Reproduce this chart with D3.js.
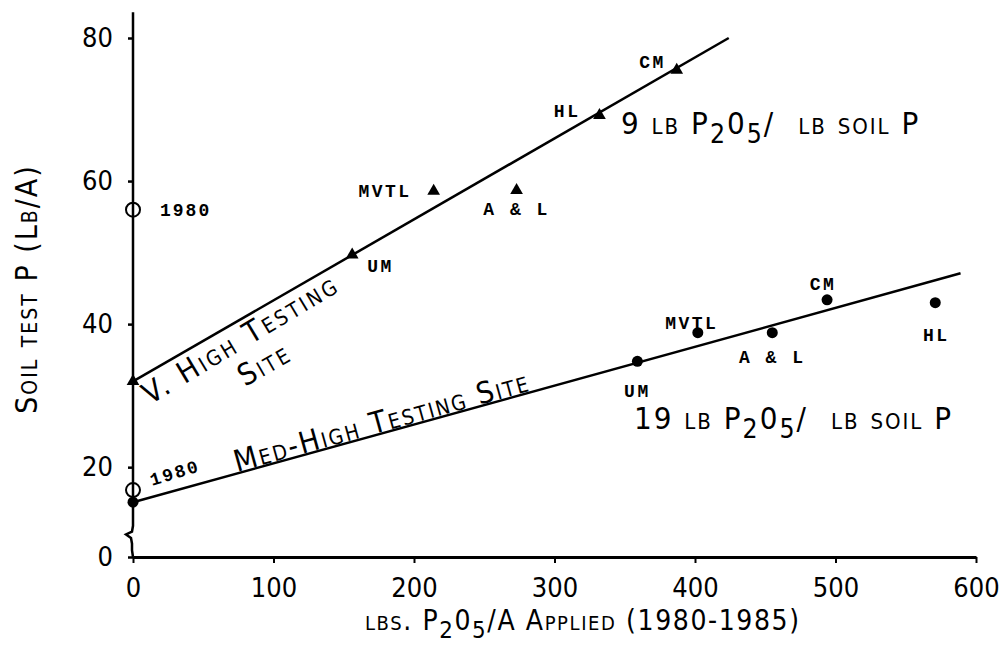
<!DOCTYPE html>
<html>
<head>
<meta charset="utf-8">
<script src="https://cdn.jsdelivr.net/npm/d3@7"></script>
<style>
  body { margin: 0; background: #fff; }
  .big { font-family: "Liberation Sans Narrow", "DejaVu Sans Condensed", sans-serif; font-stretch: condensed; font-variant: small-caps; fill: #000; }
  .tw { font-family: "Liberation Mono", "DejaVu Sans Mono", monospace; font-weight: bold; fill: #000; }
</style>
</head>
<body>
<svg id="chart" width="1006" height="647"></svg>
<script>
// axis ticks
const xTicks = [0, 100, 200, 300, 400, 500, 600];
const yTicks = [0, 20, 40, 60, 80];

// V. high testing site (triangles)
const vhSites = ["UM", "MVTL", "A & L", "HL", "CM"];
const vhApplied = [156, 214, 273, 332, 387];
const vhSoilP = [49.7, 58.6, 58.7, 69.2, 75.5];
const vhStart = 32;      // 0 lb applied
const vh1980 = 56;       // 1980 soil test
const vhFit = [[0, 32], [424, 80]];

// Med-high testing site (dots)
const mhSites = ["UM", "MVTL", "A & L", "CM", "HL"];
const mhApplied = [359, 402, 455, 494, 571];
const mhSoilP = [34.8, 38.8, 38.8, 43.4, 43.0];
const mhStart = 15.1;
const mh1980 = 16.8;
const mhFit = [[0, 15.1], [589, 47.1]];

const svg = d3.select("#chart");

const x = d3.scaleLinear().domain([0, 600]).range([133, 976]);
// y axis is broken between 0 and ~8
const y = d3.scaleLinear().domain([0, 8, 80]).range([557, 553, 38]);

// x axis
const xAxis = svg.append("g")
    .attr("transform", `translate(0,${y(0)})`)
    .call(d3.axisBottom(x).tickValues(xTicks).tickSize(6).tickSizeOuter(0).tickPadding(15));
xAxis.select(".domain").attr("stroke-width", 3);
xAxis.selectAll(".tick line").attr("stroke-width", 2);
xAxis.selectAll(".tick text").attr("class", "big").style("font-size", "27px");

// y axis (ticks only, line drawn by hand with the break)
const yAxis = svg.append("g")
    .attr("transform", `translate(${x(0)},0)`)
    .call(d3.axisLeft(y).tickValues(yTicks).tickSize(5).tickSizeOuter(0).tickPadding(15));
yAxis.select(".domain").remove();
yAxis.selectAll(".tick line").attr("stroke-width", 2.5);
yAxis.selectAll(".tick text").attr("class", "big").style("font-size", "27px");

const x0 = x(0);
svg.append("path")
    .attr("d", d3.line()([
      [x0, y(83.6)], [x0, y(11.8)], [x0 - 1, y(11)], [x0 - 7, y(10.6)],
      [x0 - 2, y(10.1)], [x0 - 1, y(9.3)], [x0 - 1, y(8.4)], [x0, y(0)]
    ]))
    .attr("fill", "none").attr("stroke", "#000").attr("stroke-width", 2.5);

// fitted lines
const line = d3.line().x(d => x(d[0])).y(d => y(d[1]));
[vhFit, mhFit].forEach(f => {
  svg.append("path").attr("d", line(f))
    .attr("fill", "none").attr("stroke", "#000").attr("stroke-width", 2.5);
});

// markers
const tri = d3.symbol().type(d3.symbolTriangle).size(70);
const vhPts = vhSites.map((s, i) => ({ site: s, ap: vhApplied[i], p: vhSoilP[i] }));
const mhPts = mhSites.map((s, i) => ({ site: s, ap: mhApplied[i], p: mhSoilP[i] }));

svg.selectAll(".tri")
  .data(vhPts.concat([{ site: "", ap: 0, p: vhStart }]))
  .enter().append("path")
    .attr("class", "tri")
    .attr("transform", d => `translate(${x(d.ap)},${y(d.p)})`)
    .attr("d", tri);

svg.selectAll(".dot")
  .data(mhPts.concat([{ site: "", ap: 0, p: mhStart }]))
  .enter().append("circle")
    .attr("class", "dot")
    .attr("cx", d => x(d.ap)).attr("cy", d => y(d.p))
    .attr("r", 5.5);

// 1980 open circles
[vh1980, mh1980].forEach(v => {
  svg.append("circle").attr("cx", x(0)).attr("cy", y(v)).attr("r", 7)
    .attr("fill", "none").attr("stroke", "#000").attr("stroke-width", 2);
});

// site labels: [dx, dy, anchor]
const vhLab = { "UM": [15, 17, "start"], "MVTL": [-22, 6, "end"], "A & L": [0, 25, "middle"], "HL": [-19, 2, "end"], "CM": [-11, -2, "end"] };
const mhLab = { "UM": [0, 36, "middle"], "MVTL": [-6, -4, "middle"], "A & L": [0, 30, "middle"], "CM": [-4, -10, "middle"], "HL": [1, 38, "middle"] };

function siteLabels(pts, lab) {
  svg.append("g").selectAll("text")
    .data(pts)
    .enter().append("text")
      .attr("class", "tw")
      .attr("x", d => x(d.ap) + lab[d.site][0])
      .attr("y", d => y(d.p) + lab[d.site][1])
      .attr("text-anchor", d => lab[d.site][2])
      .style("font-size", "18px")
      .style("letter-spacing", "2.5px")
      .text(d => d.site);
}
siteLabels(vhPts, vhLab);
siteLabels(mhPts, mhLab);

svg.append("text").attr("class", "tw")
  .attr("x", x(0) + 27).attr("y", y(vh1980) + 6)
  .style("font-size", "18px").style("letter-spacing", "2px").text("1980");
svg.append("text").attr("class", "tw")
  .attr("transform", `translate(${x(0) + 19},${y(mh1980) - 4}) rotate(-17)`)
  .style("font-size", "18px").style("letter-spacing", "2px").text("1980");

// text with subscripts
function richText(g, parts, size) {
  const t = g.append("text").attr("class", "big").style("font-size", size + "px");
  parts.forEach(p => {
    const ts = t.append("tspan").text(p[0]);
    if (p[1] === 1) ts.attr("dy", size * 0.3).style("font-size", (size * 0.85) + "px");
    if (p[1] === -1) ts.attr("dy", -size * 0.3);
    if (p[2]) ts.attr("dx", p[2]);
  });
  return t;
}

const rate9 = [["9 lb P", 0], ["2", 1], ["0", -1], ["5", 1], ["/", -1], ["lb soil P", 0, 23]];
const rate19 = [["19 lb P", 0], ["2", 1], ["0", -1], ["5", 1], ["/", -1], ["lb soil P", 0, 23]];
richText(svg, rate9, 31).attr("x", 621).attr("y", 134).style("letter-spacing", "2px");
richText(svg, rate19, 31).attr("x", 634).attr("y", 429).style("letter-spacing", "2px");

// site names along lines
svg.append("text").attr("class", "big")
  .attr("transform", "translate(150,405) rotate(-31)")
  .style("font-size", "30px").style("letter-spacing", "2.8px").text("V. High Testing");
svg.append("text").attr("class", "big")
  .attr("transform", "translate(245,387) rotate(-30)")
  .style("font-size", "30px").style("letter-spacing", "2.5px").text("Site");
svg.append("text").attr("class", "big")
  .attr("transform", "translate(237,472) rotate(-15.5)")
  .style("font-size", "30px").style("letter-spacing", "2px").text("Med-High Testing Site");

// axis titles
svg.append("text").attr("class", "big")
  .attr("transform", "translate(37,289) rotate(-90)")
  .attr("text-anchor", "middle")
  .style("font-size", "30px").style("letter-spacing", "2px")
  .text("Soil test P (Lb/A)");

const xt = richText(svg, [["lbs. P", 0], ["2", 1], ["0", -1], ["5", 1], ["/A Applied (1980-1985)", -1]], 28);
xt.attr("x", 365).attr("y", 630).style("letter-spacing", "1.6px");
</script>
</body>
</html>
